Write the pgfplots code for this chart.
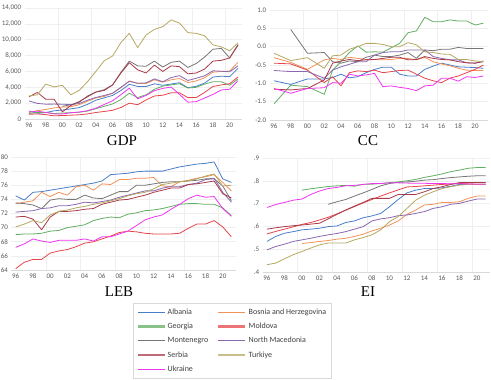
\documentclass[border=0pt]{standalone}
\usepackage{fontspec}
\setmainfont{Carlito}
\newfontfamily\titlefont{Liberation Serif}
\usepackage{pgfplots}
\usepackage{pgfplotstable}
\pgfplotsset{compat=1.18}

\definecolor{cAlb}{HTML}{4A7EC8}
\definecolor{cBih}{HTML}{F0925A}
\definecolor{cGeo}{HTML}{62AE62}
\definecolor{cMda}{HTML}{E5454A}
\definecolor{cMne}{HTML}{767676}
\definecolor{cMkd}{HTML}{8A68B0}
\definecolor{cSrb}{HTML}{A83A4A}
\definecolor{cTur}{HTML}{B5A862}
\definecolor{cUkr}{HTML}{F035F0}
\definecolor{tickgray}{HTML}{595959}
\definecolor{axisgray}{HTML}{D9D9D9}
\definecolor{gridgray}{HTML}{EFEFEF}
\definecolor{textgray}{HTML}{404040}

\pgfplotstableread{
year alb bih geo mda mne mkd srb tur ukr
1996 1010 830 690 590 nan 2280 2800 2900 870
1997 720 1050 830 640 nan 1970 3350 3050 990
1998 810 1200 830 550 nan 1870 2500 4400 830
1999 1030 1400 690 400 nan 1880 2500 4050 640
2000 1130 1500 750 440 1600 1870 900 4250 640
2001 1280 1550 800 480 1800 1810 1700 3050 780
2002 1430 1800 850 530 2100 1950 2200 3600 880
2003 1850 2250 1000 640 2900 2370 2800 4700 1050
2004 2370 2650 1300 820 3400 2720 3400 6000 1370
2005 2670 2850 1600 950 3700 2970 3600 7350 1830
2006 2970 3250 1900 1100 4300 3250 4300 7950 2300
2007 3600 3950 2450 1450 5900 4000 5800 9650 3070
2008 4370 4800 3250 2000 7300 4750 7100 10800 3890
2009 4110 4500 2700 1800 6700 4500 6200 9000 2550
2010 4090 4450 3050 2400 6650 4560 5800 10600 2970
2011 4440 4950 3750 2900 7300 5060 6800 11300 3570
2012 4250 4650 4150 3000 6550 4700 6000 11650 3860
2013 4410 4950 4300 3300 7150 5220 6700 12500 4030
2014 4580 5100 4450 3300 7300 5470 6600 12100 3100
2015 3950 4600 3900 2700 6500 4860 5700 10900 2120
2016 4120 4800 4000 2700 7000 5140 5800 10800 2190
2017 4530 5200 4400 3350 7800 5450 6300 10500 2640
2018 5290 5900 4700 4100 8800 6080 7300 9350 3100
2019 5400 6000 4700 4300 8900 6020 7400 9100 3660
2020 5340 6050 4250 4450 7700 5960 7700 8600 3750
2021 6380 7150 5050 5300 9400 6690 9300 9600 4840
}\gdp

\pgfplotstableread{
year alb bih geo mda mne mkd srb tur ukr
1996 -0.93 -0.30 -1.56 -0.45 nan -0.65 -1.16 -0.18 -1.14
1998 -1.03 -0.43 -1.05 -0.47 0.47 -0.68 -1.18 -0.38 -1.27
2000 -0.88 -0.62 -1.09 -0.64 -0.18 -0.68 -1.14 -0.30 -1.14
2002 -0.88 -0.36 -1.30 -0.98 -0.16 -0.86 -0.91 -0.59 -1.12
2003 -0.84 -0.32 -0.64 -0.82 -0.41 -0.64 -0.45 -0.25 -0.98
2004 -0.75 -0.35 -0.41 -1.07 -0.45 -0.55 -0.39 -0.23 -1.00
2005 -0.85 -0.29 -0.16 -0.71 -0.39 -0.48 -0.35 -0.07 -0.75
2006 -0.82 -0.32 0.02 -0.66 -0.41 -0.41 -0.38 0.00 -0.80
2007 -0.71 -0.35 -0.15 -0.68 -0.29 -0.41 -0.36 0.09 -0.77
2008 -0.62 -0.35 -0.14 -0.64 -0.23 -0.23 -0.35 0.09 -0.73
2009 -0.56 -0.36 -0.15 -0.71 -0.27 -0.16 -0.32 0.06 -1.09
2010 -0.56 -0.35 -0.03 -0.68 -0.27 -0.14 -0.29 0.00 -1.07
2011 -0.75 -0.32 0.09 -0.65 -0.23 -0.14 -0.29 0.00 -1.11
2012 -0.80 -0.32 0.38 -0.64 -0.16 -0.09 -0.36 0.11 -1.14
2013 -0.80 -0.36 0.43 -0.75 -0.32 -0.09 -0.35 0.05 -1.20
2014 -0.62 -0.29 0.80 -0.86 -0.09 -0.09 -0.27 -0.14 -1.07
2015 -0.53 -0.41 0.68 -0.93 -0.11 -0.27 -0.32 -0.16 -1.05
2016 -0.45 -0.47 0.68 -0.98 -0.07 -0.32 -0.35 -0.20 -0.86
2017 -0.50 -0.52 0.73 -0.86 -0.07 -0.36 -0.36 -0.21 -0.86
2018 -0.55 -0.59 0.70 -0.80 -0.02 -0.36 -0.41 -0.35 -0.94
2019 -0.56 -0.64 0.70 -0.71 -0.05 -0.44 -0.44 -0.35 -0.82
2020 -0.57 -0.65 0.59 -0.62 -0.05 -0.45 -0.45 -0.39 -0.84
2021 -0.59 -0.65 0.64 -0.50 -0.05 -0.39 -0.41 -0.41 -0.80
}\cc

\pgfplotstableread{
year alb bih geo mda mne mkd srb tur ukr
1996 74.5 73.4 69.0 64.2 73.5 72.2 71.5 70.1 67.2
1997 73.9 73.6 69.1 65.1 73.4 72.3 71.6 70.5 67.7
1998 75.0 73.8 69.1 65.5 73.2 72.4 71.2 71.0 68.4
1999 75.1 75.0 69.2 65.5 72.7 72.7 69.7 70.7 68.1
2000 75.3 74.4 69.5 66.4 73.9 72.8 71.5 71.8 67.9
2001 75.5 75.0 69.6 66.7 74.1 73.1 72.3 72.3 68.2
2002 75.7 74.6 70.0 66.9 74.0 73.1 72.3 72.5 68.2
2003 75.9 75.8 70.2 67.3 74.0 73.3 72.4 72.8 68.2
2004 76.1 76.0 70.4 67.8 74.6 73.6 72.6 73.0 68.4
2005 76.3 75.3 71.0 68.0 74.2 73.5 72.7 73.3 68.1
2006 76.6 76.2 71.3 68.4 74.1 73.7 73.3 73.5 68.7
2007 77.5 76.1 71.5 68.8 74.6 73.9 73.6 73.8 68.7
2008 77.6 76.8 71.4 69.3 75.1 74.3 73.9 74.1 69.1
2009 77.7 76.8 71.9 69.5 75.1 74.6 74.0 74.5 69.5
2010 77.9 77.0 72.1 69.4 76.0 74.9 74.3 74.8 70.3
2011 78.0 77.0 72.4 69.2 76.0 75.2 74.6 75.0 71.1
2012 78.0 77.1 72.5 69.1 76.2 75.2 75.0 75.5 71.5
2013 78.0 75.9 72.7 69.1 76.4 75.6 75.3 76.1 71.8
2014 78.3 75.8 73.0 69.1 76.5 75.8 75.6 76.3 72.6
2015 78.6 76.5 73.3 69.2 76.5 75.8 75.6 76.5 73.3
2016 78.8 76.7 73.4 69.9 76.6 76.1 76.1 76.6 74.1
2017 79.0 77.0 73.4 70.5 76.7 76.3 76.2 76.9 74.6
2018 79.1 77.2 73.3 70.5 76.9 76.8 76.4 77.3 74.3
2019 79.3 77.5 73.3 71.0 76.9 77.0 76.6 77.6 74.4
2020 76.9 76.4 72.8 70.1 75.9 75.0 74.8 75.9 72.7
2021 76.4 75.2 71.7 68.7 73.8 73.6 74.2 76.0 71.6
}\leb

\pgfplotstableread{
year alb bih geo mda mne mkd srb tur ukr
1996 0.534 nan nan 0.567 nan 0.497 0.588 0.432 0.683
1997 0.556 nan nan 0.578 nan 0.512 0.594 0.439 0.696
1998 0.570 nan nan 0.588 nan 0.522 0.599 0.458 0.705
1999 0.577 nan nan 0.598 nan 0.534 0.603 0.476 0.715
2000 0.585 0.525 0.759 0.609 nan 0.541 0.606 0.490 0.720
2001 0.588 0.529 0.765 0.617 nan 0.548 0.610 0.505 0.740
2002 0.592 0.534 0.770 0.628 nan 0.556 0.614 0.519 0.755
2003 0.599 0.538 0.775 0.640 0.697 0.563 0.633 0.527 0.766
2004 0.602 0.544 0.778 0.655 0.708 0.569 0.653 0.527 0.771
2005 0.617 0.548 0.780 0.671 0.718 0.577 0.672 0.527 0.778
2006 0.624 0.556 0.776 0.687 0.733 0.588 0.689 0.541 0.780
2007 0.638 0.566 0.785 0.703 0.747 0.599 0.705 0.551 0.784
2008 0.646 0.580 0.785 0.718 0.762 0.624 0.723 0.563 0.788
2009 0.657 0.592 0.788 0.733 0.778 0.633 0.723 0.585 0.788
2010 0.686 0.606 0.792 0.747 0.788 0.638 0.723 0.621 0.791
2011 0.718 0.624 0.795 0.760 0.793 0.647 0.740 0.643 0.791
2012 0.747 0.653 0.800 0.773 0.795 0.650 0.740 0.679 0.790
2013 0.759 0.672 0.806 0.775 0.798 0.657 0.740 0.715 0.789
2014 0.766 0.694 0.815 0.778 0.803 0.665 0.752 0.737 0.789
2015 0.766 0.697 0.822 0.781 0.805 0.679 0.766 0.752 0.788
2016 0.769 0.705 0.830 0.784 0.810 0.686 0.774 0.766 0.788
2017 0.776 0.705 0.840 0.786 0.814 0.697 0.784 0.774 0.787
2018 0.784 0.708 0.847 0.788 0.817 0.701 0.792 0.781 0.787
2019 0.784 0.723 0.855 0.790 0.820 0.711 0.792 0.784 0.786
2020 0.784 0.733 0.858 0.792 0.822 0.720 0.792 0.784 0.785
2021 0.784 0.733 0.858 0.792 0.822 0.720 0.792 0.784 0.785
}\ei

\pgfplotsset{
  panel/.style={
    scale only axis, anchor=south west,
    xmin=1995.5, xmax=2021.5,
    xtick={1996,1998,...,2020},
    xticklabels={96,98,00,02,04,06,08,10,12,14,16,18,20},
    minor xtick={1999.5,2003.5,2007.5,2011.5,2015.5,2019.5},
    xminorgrids=true, ymajorgrids=true,
    scaled y ticks=false, scaled x ticks=false,
    major grid style={draw=gridgray, line width=0.5pt},
    minor grid style={draw=gridgray, line width=0.5pt},
    axis x line*=bottom, axis y line*=left,
    x axis line style={-, draw=axisgray, line width=0.6pt},
    y axis line style={draw=none},
    major tick length=0pt, minor tick length=0pt,
    tick label style={font=\fontsize{7}{8}\selectfont, text=tickgray},
    every axis plot/.append style={line width=0.8pt, no markers, line join=round},
  },
}

\begin{document}
\begin{tikzpicture}
\useasboundingbox (0,0) rectangle (491pt,380pt);

% GDP
\begin{axis}[panel, at={(24.8pt,261pt)}, width=217.4pt, height=111pt,
  ymin=0, ymax=14000, ytick={0,2000,...,14000},
  yticklabels={0,{2,000},{4,000},{6,000},{8,000},{10,000},{12,000},{14,000}}]
\addplot[cAlb] table[x=year,y=alb]{\gdp};
\addplot[cBih] table[x=year,y=bih]{\gdp};
\addplot[cGeo] table[x=year,y=geo]{\gdp};
\addplot[cMda] table[x=year,y=mda]{\gdp};
\addplot[cMne] table[x=year,y=mne]{\gdp};
\addplot[cMkd] table[x=year,y=mkd]{\gdp};
\addplot[cSrb] table[x=year,y=srb]{\gdp};
\addplot[cTur] table[x=year,y=tur]{\gdp};
\addplot[cUkr] table[x=year,y=ukr]{\gdp};
\end{axis}

% CC
\begin{axis}[panel, at={(269.8pt,260pt)}, width=217.8pt, height=110pt,
  ymin=-2, ymax=1, ytick={-2,-1.5,...,1},
  yticklabels={-2.0,-1.5,-1.0,-0.5,0.0,0.5,1.0}]
\addplot[cAlb] table[x=year,y=alb]{\cc};
\addplot[cBih] table[x=year,y=bih]{\cc};
\addplot[cGeo] table[x=year,y=geo]{\cc};
\addplot[cMda] table[x=year,y=mda]{\cc};
\addplot[cMne] table[x=year,y=mne]{\cc};
\addplot[cMkd] table[x=year,y=mkd]{\cc};
\addplot[cSrb] table[x=year,y=srb]{\cc};
\addplot[cTur] table[x=year,y=tur]{\cc};
\addplot[cUkr] table[x=year,y=ukr]{\cc};
\end{axis}

% LEB
\begin{axis}[panel, at={(11.4pt,110pt)}, width=224.3pt, height=113pt,
  ymin=64, ymax=80, ytick={64,66,...,80},
  yticklabels={64,66,68,70,72,74,76,78,80}]
\addplot[cAlb] table[x=year,y=alb]{\leb};
\addplot[cBih] table[x=year,y=bih]{\leb};
\addplot[cGeo] table[x=year,y=geo]{\leb};
\addplot[cMda] table[x=year,y=mda]{\leb};
\addplot[cMne] table[x=year,y=mne]{\leb};
\addplot[cMkd] table[x=year,y=mkd]{\leb};
\addplot[cSrb] table[x=year,y=srb]{\leb};
\addplot[cTur] table[x=year,y=tur]{\leb};
\addplot[cUkr] table[x=year,y=ukr]{\leb};
\end{axis}

% EI
\begin{axis}[panel, at={(262.6pt,108pt)}, width=227.5pt, height=114pt,
  ymin=0.4, ymax=0.9, ytick={0.4,0.5,0.6,0.7,0.8,0.9},
  yticklabels={.4,.5,.6,.7,.8,.9}]
\addplot[cAlb] table[x=year,y=alb]{\ei};
\addplot[cBih] table[x=year,y=bih]{\ei};
\addplot[cGeo] table[x=year,y=geo]{\ei};
\addplot[cMda] table[x=year,y=mda]{\ei};
\addplot[cMne] table[x=year,y=mne]{\ei};
\addplot[cMkd] table[x=year,y=mkd]{\ei};
\addplot[cSrb] table[x=year,y=srb]{\ei};
\addplot[cTur] table[x=year,y=tur]{\ei};
\addplot[cUkr] table[x=year,y=ukr]{\ei};
\end{axis}

\node[font=\titlefont\fontsize{15}{18}\selectfont, anchor=base] at (122pt,234pt) {GDP};
\node[font=\titlefont\fontsize{15}{18}\selectfont, anchor=base] at (368pt,234pt) {CC};
\node[font=\titlefont\fontsize{15}{18}\selectfont, anchor=base] at (119pt,83pt) {LEB};
\node[font=\titlefont\fontsize{15}{18}\selectfont, anchor=base] at (368pt,83pt) {EI};

% Legend
\begin{axis}[at={(133pt,67pt)}, anchor=south west, hide axis, scale only axis,
  width=10pt, height=10pt, xmin=0, xmax=1, ymin=0, ymax=1,
  legend columns=2,
  legend cell align=left,
  legend image code/.code={\draw[#1] (0pt,0pt) -- (27pt,0pt);},
  legend style={at={(0,1)}, anchor=north west, draw=axisgray, line width=0.6pt,
    inner xsep=3pt, inner ysep=3.5pt,
    font=\fontsize{8}{10}\selectfont, text=textgray,
    /tikz/every even column/.append style={column sep=7pt},
    row sep=3.2pt}]
\addlegendimage{cAlb, line width=0.9pt}\addlegendentry{Albania}
\addlegendimage{cBih, line width=0.9pt}\addlegendentry{Bosnia and Herzegovina}
\addlegendimage{cGeo!75, line width=2.4pt}\addlegendentry{Georgia}
\addlegendimage{cMda!75, line width=2.4pt}\addlegendentry{Moldova}
\addlegendimage{cMne, line width=0.9pt}\addlegendentry{Montenegro}
\addlegendimage{cMkd, line width=0.9pt}\addlegendentry{North Macedonia}
\addlegendimage{cSrb!75, line width=2.4pt}\addlegendentry{Serbia}
\addlegendimage{cTur!75, line width=2.4pt}\addlegendentry{Turkiye}
\addlegendimage{cUkr, line width=0.9pt}\addlegendentry{Ukraine}
\end{axis}
\end{tikzpicture}
\end{document}
